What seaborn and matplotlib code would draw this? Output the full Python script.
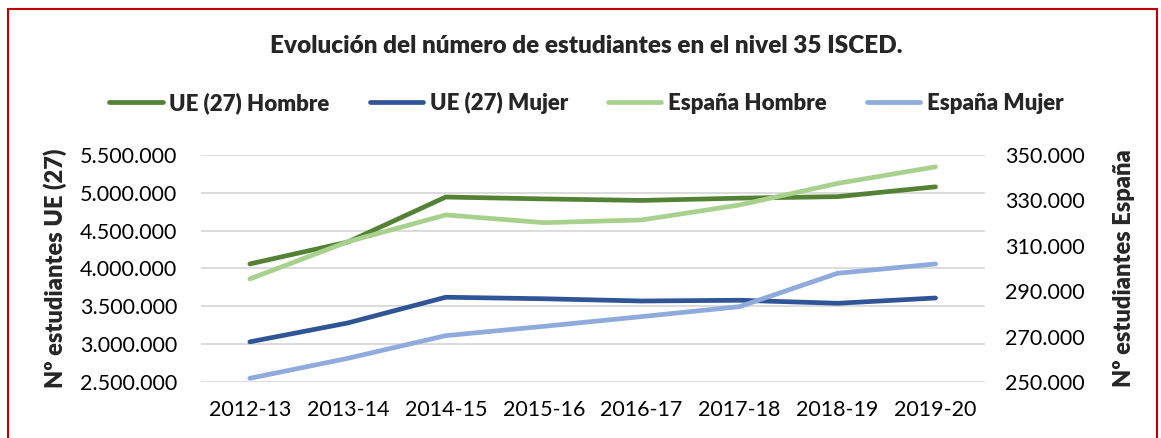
import pandas as pd
import matplotlib.pyplot as plt
import matplotlib.ticker as mticker
from matplotlib.patches import Rectangle
import seaborn as sns

cursos = ['2012-13', '2013-14', '2014-15', '2015-16', '2016-17', '2017-18', '2018-19', '2019-20']
ue_hombre = [4060000, 4350000, 4945000, 4920000, 4900000, 4930000, 4950000, 5080000]
ue_mujer = [3030000, 3280000, 3620000, 3600000, 3570000, 3580000, 3540000, 3610000]
es_hombre = [295400, 311800, 323600, 320200, 321400, 328000, 337500, 344800]
es_mujer = [251600, 260400, 270400, 274500, 278800, 283200, 297900, 302000]

colores = {'UE (27) Hombre': '#548235', 'UE (27) Mujer': '#2F5597',
           'España Hombre': '#A9D18E', 'España Mujer': '#8FAADC'}

sns.set_style('white')
plt.rcParams['font.family'] = ['Lato', 'DejaVu Sans']

fig = plt.figure(figsize=(11.61, 4.38), dpi=100)
ax = fig.add_axes([0.173, 0.128, 0.675, 0.518])
ax2 = ax.twinx()

def miles(x, pos):
    return f'{int(round(x)):,}'.replace(',', '.')

lw = 3.4
sns.lineplot(x=cursos, y=ue_hombre, ax=ax, color=colores['UE (27) Hombre'], lw=lw, label='UE (27) Hombre', zorder=3)
sns.lineplot(x=cursos, y=ue_mujer, ax=ax, color=colores['UE (27) Mujer'], lw=lw, label='UE (27) Mujer', zorder=3)
sns.lineplot(x=cursos, y=es_hombre, ax=ax2, color=colores['España Hombre'], lw=lw, label='España Hombre', zorder=3)
sns.lineplot(x=cursos, y=es_mujer, ax=ax2, color=colores['España Mujer'], lw=lw, label='España Mujer', zorder=3)

for l in ax.lines + ax2.lines:
    l.set_solid_capstyle('round')

ax.set_xlim(-0.5, 7.5)
ax.set_ylim(2500000, 5500000)
ax.set_yticks(range(2500000, 5500001, 500000))
ax2.set_ylim(250000, 350000)
ax2.set_yticks(range(250000, 350001, 20000))
ax.yaxis.set_major_formatter(mticker.FuncFormatter(miles))
ax2.yaxis.set_major_formatter(mticker.FuncFormatter(miles))

ax.grid(axis='y', color='#D9D9D9', lw=1.3)
ax.set_axisbelow(True)
for a in (ax, ax2):
    for s in a.spines.values():
        s.set_visible(False)
    a.tick_params(length=0, labelsize=15.5, colors='#000000')
ax.tick_params(axis='y', pad=17)
ax2.tick_params(axis='y', pad=15)
ax.tick_params(axis='x', pad=13)

negrita = 'heavy'
ax.set_ylabel('Nº estudiantes UE (27)', fontsize=17, fontweight=negrita, labelpad=9)
ax2.set_ylabel('Nº estudiantes España', fontsize=17, fontweight=negrita, labelpad=20)

h1, l1 = ax.get_legend_handles_labels()
h2, l2 = ax2.get_legend_handles_labels()
ax.get_legend().remove()
ax2.get_legend().remove()
fig.legend(h1 + h2, l1 + l2, loc='center', bbox_to_anchor=(0.505, 0.765), ncol=4, frameon=False,
           prop={'weight': negrita, 'size': 16}, handlelength=2.4, handletextpad=0.3, columnspacing=1.8)

fig.text(0.505, 0.895, 'Evolución del número de estudiantes en el nivel 35 ISCED.', ha='center', va='center',
         fontsize=17.5, fontweight=negrita)

fig.patches.append(Rectangle((8 / 1161, -0.05), 1149 / 1161, 1.05 - 9 / 438, transform=fig.transFigure,
                             fill=False, edgecolor='#C00000', lw=1.5))

fig.savefig('out.png', dpi=100)
